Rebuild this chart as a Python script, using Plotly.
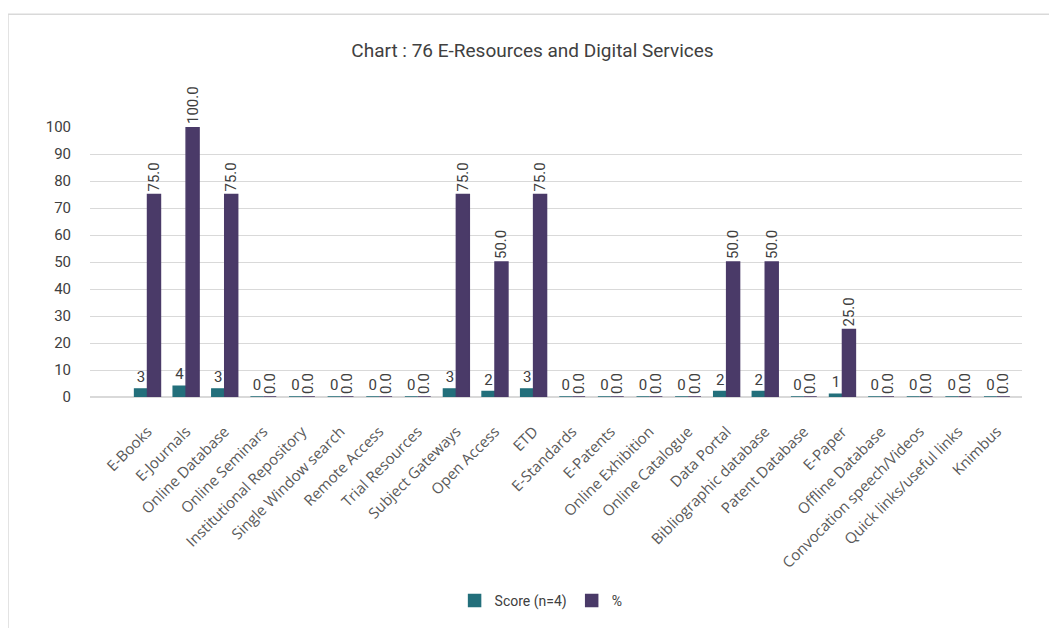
import plotly.graph_objects as go

categories = ["E-Books", "E-Journals", "Online Database", "Online Seminars",
              "Institutional Repository", "Single Window search", "Remote Access",
              "Trial Resources", "Subject Gateways", "Open Access", "ETD",
              "E-Standards", "E-Patents", "Online Exhibition", "Online Catalogue",
              "Data Portal", "Bibliographic database", "Patent Database", "E-Paper",
              "Offline Database", "Convocation speech/Videos",
              "Quick links/useful links", "Knimbus"]
score = [3, 4, 3, 0, 0, 0, 0, 0, 3, 2, 3, 0, 0, 0, 0, 2, 2, 0, 1, 0, 0, 0, 0]
percent = [75, 100, 75, 0, 0, 0, 0, 0, 75, 50, 75, 0, 0, 0, 0, 50, 50, 0, 25, 0, 0, 0, 0]

teal = "#236f7b"
purple = "#4a3a68"
narrow = "Liberation Sans Narrow, Roboto, Arial"

fig = go.Figure()
fig.add_trace(go.Bar(
    x=categories, y=score, name="Score (n=4)",
    marker=dict(color=teal, line=dict(color=teal, width=1.5)),
    text=[str(v) for v in score], textposition="outside", textangle=0,
    textfont=dict(size=15, color="#404040", family=narrow),
    constraintext="none", cliponaxis=False,
))
fig.add_trace(go.Bar(
    x=categories, y=percent, name="%",
    marker=dict(color=purple, line=dict(color=purple, width=1.5)),
    text=[f"{v:.1f}" for v in percent], textposition="outside", textangle=-90,
    textfont=dict(size=15, color="#404040", family=narrow),
    constraintext="none", cliponaxis=False,
))

fig.update_layout(
    width=1049, height=620,
    margin=dict(l=82, r=35, t=119, b=226),
    paper_bgcolor="white", plot_bgcolor="white",
    barmode="group", bargap=0.33, bargroupgap=0,
    font=dict(family="Open Sans, Arial", color="#595959"),
    title=dict(text="Chart : 76 E-Resources and Digital Services",
               x=0.5, xref="container", y=1 - 42 / 620, yanchor="middle",
               font=dict(family=narrow, size=19, color="#404040")),
    showlegend=True,
    legend=dict(orientation="h", x=0.484, xanchor="center", y=-0.755, yanchor="middle",
                font=dict(family=narrow, size=14, color="#404040"),
                itemwidth=30, traceorder="normal"),
    xaxis=dict(range=[-1.49, 22.65], tickangle=-45, showgrid=False,
               showline=False, ticks="", ticklabelstandoff=22,
               tickfont=dict(size=15, color="#595959")),
    yaxis=dict(range=[0, 100], dtick=10, showgrid=True, gridcolor="#d9d9d9",
               gridwidth=1, zeroline=True, zerolinecolor="#d9d9d9",
               ticks="", ticklabelstandoff=18,
               tickfont=dict(family=narrow, size=15, color="#404040")),
    shapes=[dict(type="rect", xref="paper", yref="paper",
                 x0=-0.088, x1=1.2, y0=-1.2, y1=1.418,
                 line=dict(color="#d9d9d9", width=1.5), layer="below")],
)

fig.write_html("out.html")
